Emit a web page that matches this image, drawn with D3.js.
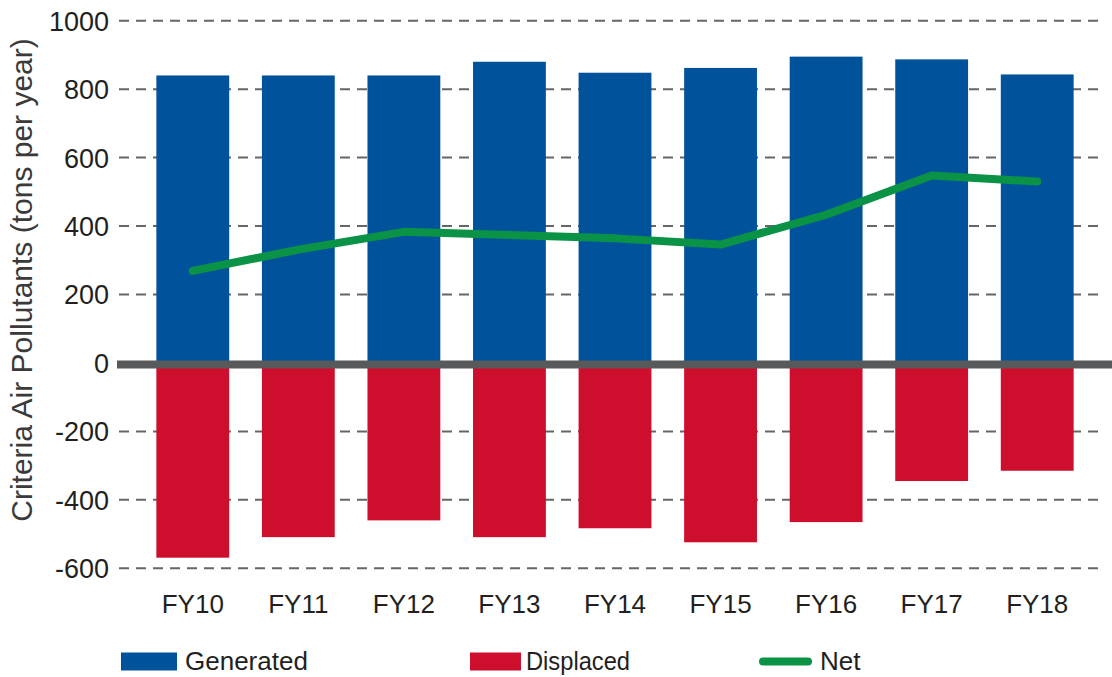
<!DOCTYPE html>
<html>
<head>
<meta charset="utf-8">
<script src="https://cdn.jsdelivr.net/npm/d3@7"></script>
<style>
  html, body { margin: 0; padding: 0; background: #fff; }
  svg { display: block; font-family: "Liberation Sans", Arial, sans-serif; }
</style>
</head>
<body>
<svg id="chart" width="1112" height="677"></svg>
<script>
// Fiscal years and emissions (tons per year)
const years = ["FY10", "FY11", "FY12", "FY13", "FY14", "FY15", "FY16", "FY17", "FY18"];
const generated = [840, 840, 840, 880, 848, 862, 895, 887, 843];
const displaced = [-569, -509, -460, -509, -483, -524, -465, -345, -315];
const net = [269, 331, 383, 374, 364, 346, 433, 548, 530];
const yTicks = [-600, -400, -200, 0, 200, 400, 600, 800, 1000];

const colors = { generated: "#00539b", displaced: "#ce0e2d", net: "#0a9346" };

const svg = d3.select("#chart");

const x = d3.scaleBand().domain(years).range([140, 1090]).paddingInner(0.31).paddingOuter(0.155);
const y = d3.scaleLinear().domain([-600, 1000]).range([568.3, 20.7]);

// Dashed gridlines (the zero line is drawn solid on top of the bars)
svg.append("g")
  .selectAll("line")
  .data(yTicks.filter(d => d !== 0))
  .join("line")
  .attr("x1", 119).attr("x2", 1103)
  .attr("y1", d => y(d)).attr("y2", d => y(d))
  .attr("stroke", "#666").attr("stroke-width", 2)
  .attr("stroke-dasharray", "10,7");

// Y-axis tick labels (plain hyphen for negatives)
const yAxis = d3.axisLeft(y).tickValues(yTicks).tickSize(0).tickPadding(0).tickFormat(d => String(d));
const ya = svg.append("g").attr("transform", "translate(109,0)").call(yAxis);
ya.select(".domain").remove();
ya.selectAll("text").attr("font-size", 27).attr("fill", "#231f20")
  .attr("font-family", "'Liberation Sans', Arial, sans-serif").attr("dy", "0.35em");

// Generated bars (positive)
svg.append("g").selectAll("rect")
  .data(years)
  .join("rect")
  .attr("x", d => x(d))
  .attr("width", x.bandwidth())
  .attr("y", (d, i) => y(generated[i]))
  .attr("height", (d, i) => y(0) - y(generated[i]))
  .attr("fill", colors.generated);

// Displaced bars (negative)
svg.append("g").selectAll("rect")
  .data(years)
  .join("rect")
  .attr("x", d => x(d))
  .attr("width", x.bandwidth())
  .attr("y", y(0))
  .attr("height", (d, i) => y(displaced[i]) - y(0))
  .attr("fill", colors.displaced);

// Zero baseline
svg.append("line")
  .attr("x1", 117).attr("x2", 1112)
  .attr("y1", y(0) + 1.5).attr("y2", y(0) + 1.5)
  .attr("stroke", "#58595b").attr("stroke-width", 8);

// Net line
const line = d3.line()
  .x((d, i) => x(years[i]) + x.bandwidth() / 2)
  .y(d => y(d));
svg.append("path")
  .datum(net)
  .attr("d", line)
  .attr("fill", "none")
  .attr("stroke", colors.net)
  .attr("stroke-width", 8)
  .attr("stroke-linecap", "round")
  .attr("stroke-linejoin", "round");

// X-axis category labels
const xAxis = d3.axisBottom(x).tickSize(0).tickPadding(0);
const xa = svg.append("g").attr("transform", "translate(0,613)").call(xAxis);
xa.select(".domain").remove();
xa.selectAll("text").attr("font-size", 26).attr("fill", "#231f20")
  .attr("font-family", "'Liberation Sans', Arial, sans-serif").attr("dy", 0);

// Y-axis title
svg.append("text")
  .attr("transform", "translate(32,280) rotate(-90)")
  .attr("text-anchor", "middle")
  .attr("font-size", 30)
  .attr("fill", "#3a3a3a")
  .text("Criteria Air Pollutants (tons per year)");

// Legend
const legend = svg.append("g");
legend.append("rect").attr("x", 121).attr("y", 652.5).attr("width", 56).attr("height", 18).attr("fill", colors.generated);
legend.append("text").attr("x", 185).attr("y", 670).attr("font-size", 26).attr("fill", "#231f20").text("Generated");
legend.append("rect").attr("x", 470).attr("y", 652.5).attr("width", 51).attr("height", 18).attr("fill", colors.displaced);
legend.append("text").attr("x", 526).attr("y", 670).attr("font-size", 26).attr("fill", "#231f20")
  .attr("textLength", 104).attr("lengthAdjust", "spacingAndGlyphs").text("Displaced");
legend.append("line").attr("x1", 763).attr("x2", 808).attr("y1", 661.5).attr("y2", 661.5)
  .attr("stroke", colors.net).attr("stroke-width", 8).attr("stroke-linecap", "round");
legend.append("text").attr("x", 820).attr("y", 670).attr("font-size", 26).attr("fill", "#231f20").text("Net");
</script>
</body>
</html>
